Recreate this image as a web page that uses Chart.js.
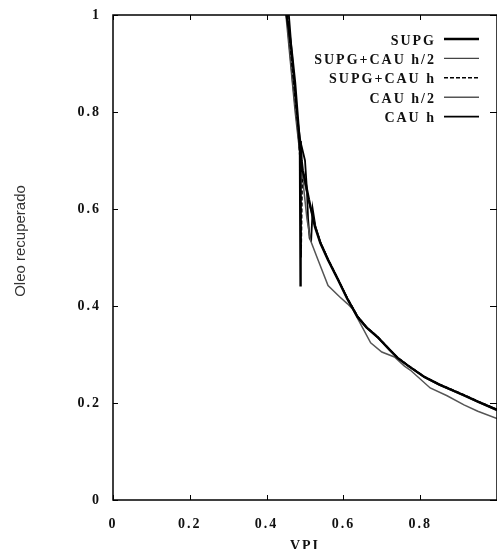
<!DOCTYPE html>
<html>
<head>
<meta charset="utf-8">
<script src="https://cdn.jsdelivr.net/npm/chart.js@4/dist/chart.umd.min.js"></script>
<style>
  html, body { margin: 0; padding: 0; background: #fff; overflow: hidden; }
  #oleoChart { display: block; }
</style>
</head>
<body>
<canvas id="oleoChart" width="505" height="549"></canvas>
<script>
// eixos
const xTicks = [0, 0.2, 0.4, 0.6, 0.8, 1];
const yTicks = [0, 0.2, 0.4, 0.6, 0.8, 1];

// curvas (VPI x óleo recuperado)
const supgX = [0.452, 0.458, 0.466, 0.474, 0.480, 0.484, 0.487, 0.488, 0.489, 0.491, 0.494, 0.500, 0.510, 0.526, 0.540, 0.560, 0.586, 0.610, 0.637, 0.660, 0.689, 0.720, 0.741, 0.770, 0.810, 0.850, 0.914, 0.950, 1.0];
const supgY = [1.0, 0.97, 0.92, 0.86, 0.80, 0.76, 0.72, 0.44, 0.74, 0.70, 0.68, 0.66, 0.62, 0.563, 0.53, 0.495, 0.454, 0.415, 0.377, 0.356, 0.336, 0.310, 0.293, 0.276, 0.254, 0.238, 0.216, 0.203, 0.186];

const supgCauH2X = [0.450, 0.462, 0.474, 0.484, 0.495, 0.505, 0.515, 0.528, 0.542, 0.562, 0.588, 0.612, 0.638, 0.662, 0.690, 0.722, 0.742, 0.772, 0.812, 0.852, 0.915, 0.952, 1.0];
const supgCauH2Y = [1.0, 0.90, 0.80, 0.73, 0.67, 0.63, 0.60, 0.562, 0.528, 0.493, 0.452, 0.413, 0.376, 0.354, 0.334, 0.308, 0.292, 0.274, 0.252, 0.236, 0.214, 0.201, 0.184];

const supgCauHX = [0.455, 0.465, 0.475, 0.482, 0.487, 0.489, 0.490, 0.493, 0.500, 0.510, 0.526, 0.540, 0.560, 0.586, 0.610, 0.637, 0.660, 0.689, 0.720, 0.741, 0.770, 0.810, 0.850, 0.914, 0.950, 1.0];
const supgCauHY = [1.0, 0.90, 0.82, 0.76, 0.70, 0.60, 0.50, 0.66, 0.655, 0.615, 0.565, 0.532, 0.497, 0.456, 0.417, 0.379, 0.357, 0.337, 0.311, 0.294, 0.277, 0.255, 0.239, 0.217, 0.204, 0.187];

const cauH2X = [0.452, 0.460, 0.468, 0.476, 0.484, 0.490, 0.497, 0.505, 0.514, 0.534, 0.560, 0.590, 0.610, 0.624, 0.640, 0.671, 0.700, 0.733, 0.759, 0.774, 0.826, 0.870, 0.914, 0.950, 1.0];
const cauH2Y = [1.0, 0.93, 0.86, 0.80, 0.74, 0.70, 0.64, 0.58, 0.536, 0.495, 0.442, 0.419, 0.405, 0.394, 0.370, 0.324, 0.305, 0.295, 0.276, 0.268, 0.231, 0.215, 0.196, 0.183, 0.168];

const cauHX = [0.458, 0.468, 0.478, 0.488, 0.500, 0.505, 0.508, 0.512, 0.516, 0.520, 0.527, 0.540, 0.560, 0.586, 0.610, 0.637, 0.660, 0.689, 0.720, 0.741, 0.770, 0.810, 0.850, 0.914, 0.950, 1.0];
const cauHY = [1.0, 0.90, 0.80, 0.74, 0.70, 0.64, 0.58, 0.54, 0.535, 0.60, 0.565, 0.531, 0.496, 0.455, 0.416, 0.378, 0.356, 0.336, 0.310, 0.293, 0.276, 0.254, 0.238, 0.216, 0.203, 0.186];

const toPoints = (xs, ys) => xs.map((x, i) => ({ x: x, y: ys[i] }));

// desenha os ticks para dentro nos quatro lados, a moldura, a legenda e os títulos
const moldura = {
  id: 'moldura',
  beforeDraw(chart) {
    chart.ctx.letterSpacing = '2px';
  },
  afterDraw(chart) {
    const ctx = chart.ctx;
    const a = chart.chartArea;
    const sx = chart.scales.x, sy = chart.scales.y;
    ctx.save();
    ctx.letterSpacing = '0px';
    ctx.strokeStyle = '#000';
    ctx.lineWidth = 1.5;
    ctx.strokeRect(a.left, a.top, a.right - a.left, a.bottom - a.top);
    ctx.lineWidth = 1;
    ctx.beginPath();
    xTicks.forEach(v => {
      const px = Math.round(sx.getPixelForValue(v)) + 0.5;
      ctx.moveTo(px, a.bottom); ctx.lineTo(px, a.bottom - 5);
      ctx.moveTo(px, a.top); ctx.lineTo(px, a.top + 5);
    });
    yTicks.forEach(v => {
      const py = Math.round(sy.getPixelForValue(v)) + 0.5;
      ctx.moveTo(a.left, py); ctx.lineTo(a.left + 5, py);
      ctx.moveTo(a.right, py); ctx.lineTo(a.right - 7, py);
    });
    ctx.stroke();

    // legenda
    ctx.font = 'bold 14px "Liberation Serif"';
    ctx.letterSpacing = '2px';
    ctx.textAlign = 'right';
    ctx.textBaseline = 'middle';
    chart.data.datasets.forEach((ds, i) => {
      const y = a.top + 24 + i * 19.4;
      ctx.fillStyle = '#111';
      ctx.fillText(ds.label, a.right - 61, y + 2);
      ctx.beginPath();
      ctx.strokeStyle = ds.borderColor;
      ctx.lineWidth = ds.borderWidth;
      ctx.setLineDash(ds.borderDash || []);
      ctx.moveTo(a.right - 53, y);
      ctx.lineTo(a.right - 18, y);
      ctx.stroke();
      ctx.setLineDash([]);
    });

    // títulos dos eixos
    ctx.letterSpacing = '2px';
    ctx.textAlign = 'center';
    ctx.textBaseline = 'alphabetic';
    ctx.fillStyle = '#111';
    ctx.fillText('VPI', 305, 550);

    ctx.letterSpacing = '0px';
    ctx.font = '15px "Liberation Sans"';
    ctx.fillStyle = '#333';
    ctx.translate(21, 241);
    ctx.rotate(-Math.PI / 2);
    ctx.textBaseline = 'middle';
    ctx.fillText('Oleo recuperado', 0, 0);
    ctx.restore();
  }
};

const fmt = (v) => {
  if (v === 0) return '0';
  if (v === 1) return '1';
  return v.toFixed(1);
};

const chart = new Chart(document.getElementById('oleoChart'), {
  type: 'line',
  data: {
    datasets: [
      { label: 'SUPG', data: toPoints(supgX, supgY), borderColor: '#000', borderWidth: 2.4 },
      { label: 'SUPG+CAU h/2', data: toPoints(supgCauH2X, supgCauH2Y), borderColor: '#444', borderWidth: 1.2 },
      { label: 'SUPG+CAU h', data: toPoints(supgCauHX, supgCauHY), borderColor: '#000', borderWidth: 1.4, borderDash: [4, 2] },
      { label: 'CAU h/2', data: toPoints(cauH2X, cauH2Y), borderColor: '#555', borderWidth: 1.5 },
      { label: 'CAU h', data: toPoints(cauHX, cauHY), borderColor: '#000', borderWidth: 1.8 }
    ]
  },
  options: {
    responsive: false,
    animation: false,
    elements: { point: { radius: 0 }, line: { tension: 0, fill: false } },
    layout: { padding: { top: 15, right: 5, left: 0, bottom: 0 } },
    scales: {
      x: {
        type: 'linear',
        min: 0, max: 1,
        afterFit: (s) => { s.height = 49; },
        afterBuildTicks: (s) => { s.ticks = xTicks.map(v => ({ value: v })); },
        grid: { display: false },
        border: { display: false },
        ticks: {
          padding: 8,
          maxRotation: 0,
          color: '#111',
          font: { family: 'Liberation Serif', size: 14, weight: 'bold' },
          callback: (v) => v === 1 ? '' : fmt(v)
        }
      },
      y: {
        min: 0, max: 1,
        afterFit: (s) => { s.width = 113; },
        afterBuildTicks: (s) => { s.ticks = yTicks.map(v => ({ value: v })); },
        grid: { display: false },
        border: { display: false },
        ticks: {
          padding: 4,
          color: '#111',
          font: { family: 'Liberation Serif', size: 14, weight: 'bold' },
          callback: (v) => fmt(v)
        }
      }
    },
    plugins: {
      legend: { display: false },
      title: { display: false },
      tooltip: { enabled: false }
    }
  },
  plugins: [moldura]
});
</script>
</body>
</html>
